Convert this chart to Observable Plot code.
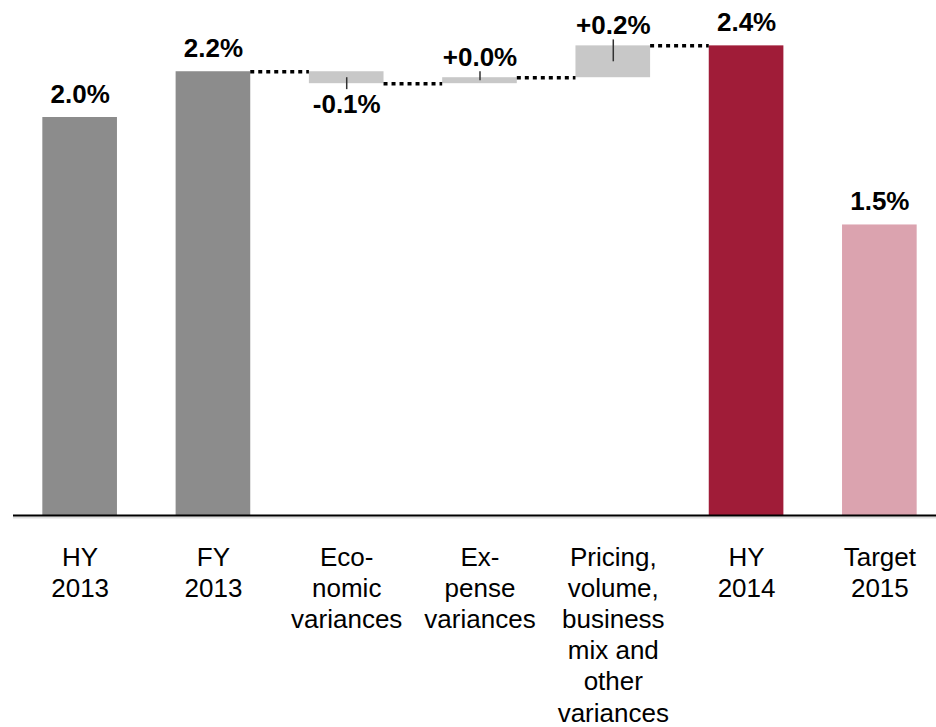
<!DOCTYPE html>
<html>
<head>
<meta charset="utf-8">
<script src="https://cdn.jsdelivr.net/npm/d3@7"></script>
<script src="https://cdn.jsdelivr.net/npm/@observablehq/plot@0.6"></script>
<style>
  html, body { margin: 0; padding: 0; background: #fff; }
  #chart svg { display: block; }
</style>
</head>
<body>
<div id="chart"></div>
<script>
// Combined ratio bridge, HY 2013 to HY 2014, with 2015 target (%)
const categories = [
  "HY\n2013",
  "FY\n2013",
  "Eco-\nnomic\nvariances",
  "Ex-\npense\nvariances",
  "Pricing,\nvolume,\nbusiness\nmix and\nother\nvariances",
  "HY\n2014",
  "Target\n2015"
];
// totals are levels, deltas are changes from the previous level
const kinds = ["total", "total", "delta", "delta", "delta", "total", "target"];
const values = [2.0, 2.23, -0.06, 0.03, 0.16, 2.36, 1.46];
const colors = ["#8c8c8c", "#8c8c8c", "#c8c8c8", "#c8c8c8", "#c8c8c8", "#a01c38", "#dba3af"];

// Build bar extents: totals rise from zero, deltas float from the running level
let level = 0;
const bars = values.map((v, i) => {
  let start, end;
  if (kinds[i] === "delta") {
    start = level; end = level + v;
    level = end;
  } else {
    start = 0; end = v;
    if (kinds[i] === "total") level = v;
  }
  const label = kinds[i] === "delta"
    ? (v >= 0 ? "+" : "-") + Math.abs(v).toFixed(1) + "%"
    : v.toFixed(1) + "%";
  return {i, kind: kinds[i], v, start, end,
          lo: Math.min(start, end), hi: Math.max(start, end),
          label, color: colors[i]};
});

// Dotted connectors between consecutive bars of the bridge
const connectors = [];
for (let i = 1; i < 5; i++) {
  connectors.push({from: i, to: i + 1, y: bars[i].end});
}

const half = 0.28;
const deltas = bars.filter(d => d.kind === "delta");
const levels = bars.filter(d => d.kind !== "delta");

const chart = Plot.plot({
  width: 936,
  height: 727,
  marginLeft: 13,
  marginRight: 0,
  marginTop: 0,
  marginBottom: 212,
  style: {fontFamily: "'Liberation Sans', Arial, sans-serif", background: "#fff"},
  x: {domain: [-0.5, 6.425], axis: null},
  y: {domain: [0, 2.588], axis: null},
  marks: [
    Plot.rectY(bars, {
      x1: d => d.i - half, x2: d => d.i + half,
      y1: "lo", y2: "hi",
      fill: "color"
    }),
    Plot.ruleX(deltas, {
      x: "i",
      y1: d => (d.start + d.end) / 2,
      y2: d => d.end + Math.sign(d.v) * 0.03,
      stroke: "#333",
      strokeWidth: 1.5
    }),
    Plot.ruleY(connectors, {
      y: "y",
      x1: d => d.from + half, x2: d => d.to - half,
      stroke: "#000",
      strokeWidth: 3.5,
      strokeDasharray: "4,4"
    }),
    Plot.ruleY([0], {stroke: "#ddd", strokeWidth: 2, dy: 2}),
    Plot.ruleY([0], {stroke: "#000", strokeWidth: 2}),
    Plot.text(levels, {
      x: "i", y: "end", text: "label",
      dy: -23, fontSize: 26, fontWeight: "bold", fill: "#000"
    }),
    Plot.text(deltas.filter(d => d.v >= 0), {
      x: "i", y: "hi", text: "label",
      dy: -20, fontSize: 26, fontWeight: "bold", fill: "#000"
    }),
    Plot.text(deltas.filter(d => d.v < 0), {
      x: "i", y: "lo", text: "label",
      dy: 21, fontSize: 26, fontWeight: "bold", fill: "#000"
    }),
    Plot.text(categories, {
      x: (d, i) => i,
      text: d => d,
      frameAnchor: "bottom",
      lineAnchor: "top",
      lineHeight: 1.2,
      dy: 28,
      fontSize: 26,
      fill: "#000"
    })
  ]
});
document.getElementById("chart").appendChild(chart);
</script>
</body>
</html>
